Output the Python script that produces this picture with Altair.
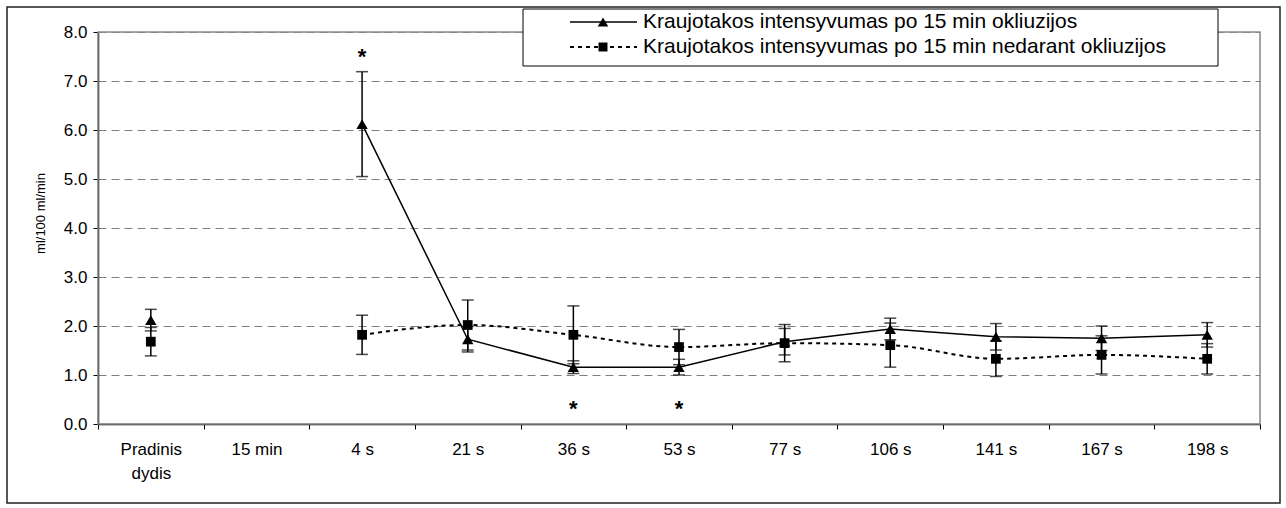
import altair as alt
import pandas as pd

# Measurement points along the x axis
categories = ["Pradinis dydis", "15 min", "4 s", "21 s", "36 s", "53 s",
              "77 s", "106 s", "141 s", "167 s", "198 s"]

# Blood flow after 15 min occlusion (mean and error, ml/100 ml/min)
occl_mean = [2.12, None, 6.12, 1.73, 1.16, 1.16, 1.68, 1.94, 1.78, 1.75, 1.82]
occl_err = [0.22, None, 1.07, 0.26, 0.13, 0.16, 0.27, 0.22, 0.27, 0.25, 0.25]

# Blood flow after 15 min without occlusion
ctrl_mean = [1.68, None, 1.82, 2.02, 1.82, 1.57, 1.65, 1.61, 1.33, 1.41, 1.33]
ctrl_err = [0.29, None, 0.40, 0.51, 0.59, 0.36, 0.38, 0.45, 0.36, 0.39, 0.31]

# Significance markers (category, y position of the asterisk)
star_cats = ["4 s", "36 s", "53 s"]
star_pos = [7.57, 0.39, 0.39]

legend_labels = ["Kraujotakos intensyvumas po 15 min okliuzijos",
                 "Kraujotakos intensyvumas po 15 min nedarant okliuzijos"]

W, H = 1162, 392
FONT = "Liberation Sans"

rows = []
for i, c in enumerate(categories):
    for s, m, e in (("occl", occl_mean, occl_err), ("ctrl", ctrl_mean, ctrl_err)):
        if m[i] is None:
            continue
        rows.append({"cat": c, "idx": i, "series": s, "mean": m[i],
                     "lo": m[i] - e[i], "hi": m[i] + e[i]})
df = pd.DataFrame(rows)
stars = pd.DataFrame({"cat": star_cats, "pos": star_pos})
one = pd.DataFrame({"k": [0]})

x_enc = alt.X(
    "cat:N", sort=categories,
    scale=alt.Scale(type="band", domain=categories, paddingInner=0, paddingOuter=0),
    axis=alt.Axis(
        title=None, labelAngle=0, labelFont=FONT, labelFontSize=17, labelColor="black",
        labelPadding=12, labelLineHeight=24, tickBand="extent", tickSize=5,
        tickColor="black", domainColor="black", domainWidth=1.5, grid=False,
        labelExpr="datum.value == 'Pradinis dydis' ? ['Pradinis', 'dydis'] : datum.label",
    ),
)
y_scale = alt.Scale(domain=[0, 8], nice=False)
y_axis = alt.Axis(
    values=[0, 1, 2, 3, 4, 5, 6, 7, 8], format=".1f", title="ml/100 ml/min",
    titleFont=FONT, titleFontSize=13, titleFontWeight="normal", titleColor="black",
    titlePadding=16, titleY=181, labelFont=FONT, labelFontSize=17, labelColor="black",
    labelPadding=6, tickSize=5, tickColor="black", domainColor="black",
    domainWidth=1.5, grid=True, gridDash=[8, 5], gridColor="#7f7f7f", gridWidth=1,
)

base = alt.Chart(df)

# Plot-area border (grey on top and right)
plot_border = alt.Chart(one).mark_rect(filled=False, stroke="#8c8c8c", strokeWidth=1.5).encode(
    x=alt.value(0), x2=alt.value(W), y=alt.value(0), y2=alt.value(H)
)

grid_layer = base.mark_point(opacity=0).encode(
    x=x_enc, y=alt.Y("mean:Q", scale=y_scale, axis=y_axis)
)

err_rules = base.mark_rule(color="black", strokeWidth=1.5).encode(
    x=alt.X("cat:N", sort=categories), y="lo:Q", y2="hi:Q"
)
cap_lo = base.mark_tick(color="black", size=12, thickness=1.5, orient="horizontal").encode(
    x=alt.X("cat:N", sort=categories), y="lo:Q"
)
cap_hi = base.mark_tick(color="black", size=12, thickness=1.5, orient="horizontal").encode(
    x=alt.X("cat:N", sort=categories), y="hi:Q"
)

line_occl = base.transform_filter(
    (alt.datum.series == "occl") & (alt.datum.idx >= 2)
).mark_line(color="black", strokeWidth=1.5).encode(
    x=alt.X("cat:N", sort=categories), y="mean:Q", order="idx:Q"
)
line_ctrl = base.transform_filter(
    (alt.datum.series == "ctrl") & (alt.datum.idx >= 2)
).mark_line(color="black", strokeWidth=2, strokeDash=[4, 4], interpolate="monotone").encode(
    x=alt.X("cat:N", sort=categories), y="mean:Q", order="idx:Q"
)

pts_occl = base.transform_filter(alt.datum.series == "occl").mark_point(
    shape="triangle-up", filled=True, color="black", size=130, opacity=1
).encode(x=alt.X("cat:N", sort=categories), y="mean:Q")
pts_ctrl = base.transform_filter(alt.datum.series == "ctrl").mark_point(
    shape="square", filled=True, color="black", size=95, opacity=1
).encode(x=alt.X("cat:N", sort=categories), y="mean:Q")

star_text = alt.Chart(stars).mark_text(
    text="*", font=FONT, fontSize=22, fontWeight="bold", color="black", baseline="middle", dy=4
).encode(x=alt.X("cat:N", sort=categories), y="pos:Q")

# Legend box drawn over the top of the plot
LX, LY = 425, -23
leg_box = alt.Chart(one).mark_rect(fill="white", stroke="black", strokeWidth=1).encode(
    x=alt.value(LX), x2=alt.value(1120), y=alt.value(LY), y2=alt.value(34)
)
leg_line1 = alt.Chart(one).mark_rule(color="black", strokeWidth=1.5).encode(
    x=alt.value(472), x2=alt.value(539), y=alt.value(-10)
)
leg_line2 = alt.Chart(one).mark_rule(color="black", strokeWidth=2, strokeDash=[4, 4]).encode(
    x=alt.value(472), x2=alt.value(539), y=alt.value(15)
)
leg_pt1 = alt.Chart(one).mark_point(shape="triangle-up", filled=True, color="black", size=110, opacity=1).encode(
    x=alt.value(505), y=alt.value(-10)
)
leg_pt2 = alt.Chart(one).mark_point(shape="square", filled=True, color="black", size=80, opacity=1).encode(
    x=alt.value(505), y=alt.value(15)
)
leg_txt1 = alt.Chart(one).mark_text(align="left", baseline="middle", font=FONT, fontSize=21, color="black").encode(
    x=alt.value(545), y=alt.value(-10), text=alt.value(legend_labels[0])
)
leg_txt2 = alt.Chart(one).mark_text(align="left", baseline="middle", font=FONT, fontSize=21, color="black").encode(
    x=alt.value(545), y=alt.value(15), text=alt.value(legend_labels[1])
)

# Outer chart frame
frame = alt.Chart(one).mark_rect(filled=False, stroke="#222222", strokeWidth=1.5).encode(
    x=alt.value(-91), x2=alt.value(1182), y=alt.value(-25), y2=alt.value(471)
)

chart = alt.layer(
    plot_border, grid_layer, err_rules, cap_lo, cap_hi, line_occl, line_ctrl,
    pts_occl, pts_ctrl, star_text, leg_box, leg_line1, leg_line2, leg_pt1, leg_pt2,
    leg_txt1, leg_txt2, frame,
).properties(
    width=W, height=H,
    autosize=alt.AutoSizeParams(type="none"),
    padding={"left": 98, "top": 32, "right": 26, "bottom": 84},
).configure_view(stroke=None).configure(background="white")

chart.save("out.html", embed_options={"renderer": "svg", "actions": False})
